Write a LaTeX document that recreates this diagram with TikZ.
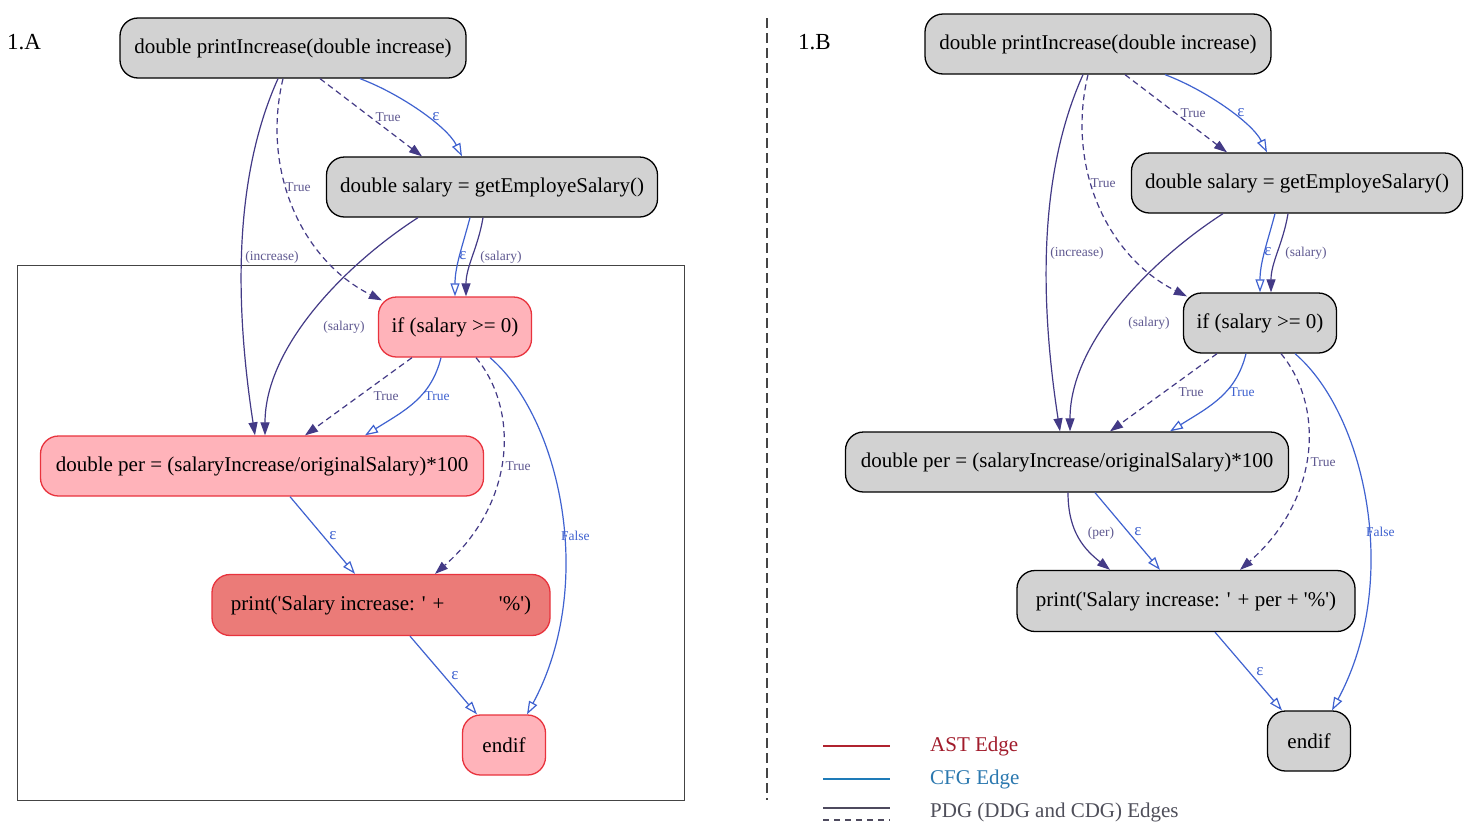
\documentclass[tikz,border=0pt]{standalone}
\usepackage{fontspec}
\setmainfont{Liberation Serif}
\newfontfamily\nodefont{Liberation Serif}
\usetikzlibrary{arrows.meta}

\definecolor{nodegray}{HTML}{D2D2D2}
\definecolor{nodepink}{HTML}{FFB3BA}
\definecolor{nodehot}{HTML}{EB7B78}
\definecolor{nodered}{HTML}{E8333D}
\definecolor{pdgc}{HTML}{433A86}
\definecolor{pdgtext}{HTML}{5E5890}
\definecolor{cfgc}{HTML}{3F62D0}
\definecolor{frame}{HTML}{444444}
\definecolor{astline}{HTML}{B0232F}
\definecolor{astt}{HTML}{A11B2B}
\definecolor{cfgline}{HTML}{1E7BB8}
\definecolor{cfgt}{HTML}{2B78AF}
\definecolor{pdgline}{HTML}{4E4A5E}
\definecolor{pdgt}{HTML}{4F4F5A}

\tikzset{
  codebox/.style={rounded corners=18pt, line width=1.3pt, inner sep=0pt,
    minimum height=60pt, font=\nodefont\fontsize{21}{24}\selectfont},
  graynode/.style={codebox, fill=nodegray, draw=black},
  pinknode/.style={codebox, fill=nodepink, draw=nodered},
  hotnode/.style={codebox, fill=nodehot, draw=nodered},
  pdg/.style={draw=pdgc, line width=1.2pt, -{Triangle[length=13pt,width=9pt]}},
  cdg/.style={pdg, dash pattern=on 6pt off 4pt},
  cfg/.style={draw=cfgc, line width=1.2pt, -{Triangle[open,length=13pt,width=9pt]}},
  pdglbl/.style={font=\fontsize{13.5}{14}\selectfont, text=pdgtext, inner sep=1pt},
  cfglbl/.style={font=\fontsize{13.5}{14}\selectfont, text=cfgc, inner sep=1pt},
  epslbl/.style={font=\fontsize{17}{18}\selectfont, text=cfgc, inner sep=1pt},
  heading/.style={font=\fontsize{23}{26}\selectfont, anchor=west, inner sep=0pt},
  legtext/.style={font=\fontsize{21}{24}\selectfont, anchor=west, inner sep=0pt},
}

% One program graph: #1 name prefix, #2 style of the if node,
% #3 style of the per node, #4 style of the print node,
% #5 style of the endif node, #6 text of the print node
\newcommand\codegraph[6]{%
  \node[graynode, minimum width=346pt] (#1top) at (293,48) {double printIncrease(double increase)};
  \node[graynode, minimum width=331pt] (#1sal) at (492,187) {double salary = getEmployeSalary()};
  \node[#2, minimum width=153pt] (#1if) at (455,327) {if (salary >= 0)};
  \node[#3, minimum width=443pt] (#1per) at (262,466) {double per = (salaryIncrease/originalSalary)*100};
  \node[#4, minimum width=338pt, minimum height=61pt] (#1pr) at (381,605) {#6};
  \node[#5, minimum width=83pt] (#1end) at (504,745) {endif};
  % data and control dependences
  \draw[pdg] ([xshift=-15pt]#1top.south) .. controls +(-45,100) and +(-20,-130) .. ([xshift=-7pt]#1per.north);
  \draw[cdg] ([xshift=-10pt]#1top.south) .. controls +(-22,92) and +(-80,-40) .. ([xshift=4pt,yshift=-4pt]#1if.north west);
  \draw[cdg] ([xshift=27pt]#1top.south) -- ([xshift=-70pt]#1sal.north);
  \draw[pdg] ([xshift=-74pt]#1sal.south) .. controls +(-70,45) and +(0,-90) .. ([xshift=3pt]#1per.north);
  \draw[pdg] ([xshift=-9pt]#1sal.south) .. controls +(-5,30) and +(0,-30) .. ([xshift=11pt]#1if.north);
  \draw[cdg] ([xshift=-43pt]#1if.south) -- ([xshift=43pt]#1per.north);
  \draw[cdg] ([xshift=21pt]#1if.south) .. controls +(44,53) and +(80,-70) .. ([xshift=54pt]#1pr.north);
  % control flow
  \draw[cfg] ([xshift=67pt]#1top.south) .. controls +(40,15) and +(-15,-30) .. ([xshift=-30pt]#1sal.north);
  \draw[cfg] ([xshift=-22pt]#1sal.south) .. controls +(-8,30) and +(0,-30) .. (#1if.north);
  \draw[cfg] ([xshift=-14pt]#1if.south) .. controls +(-10,40) and +(40,-25) .. ([xshift=103pt]#1per.north);
  \draw[cfg] ([xshift=35pt]#1if.south) .. controls +(70,60) and +(70,-130) .. ([xshift=23pt]#1end.north);
  \draw[cfg] ([xshift=28pt]#1per.south) -- ([xshift=-26pt]#1pr.north);
  \draw[cfg] ([xshift=29pt]#1pr.south) -- ([xshift=-27pt]#1end.north);
  % edge labels
  \node[pdglbl] (#1la) at (272,257) {(increase)};
  \node[pdglbl] (#1lb) at (298,187) {True};
  \node[pdglbl] (#1lc) at (388,117) {True};
  \node[epslbl] (#1ld) at (436,117) {ε};
  \node[pdglbl] (#1le) at (344,327) {(salary)};
  \node[epslbl] (#1lf) at (463,256) {ε};
  \node[pdglbl] (#1lg) at (501,257) {(salary)};
  \node[pdglbl] (#1lh) at (386,396) {True};
  \node[cfglbl] (#1li) at (437,396) {True};
  \node[pdglbl] (#1lj) at (518,466) {True};
  \node[cfglbl, anchor=west] (#1lk) at (560,536) {False};
  \node[epslbl] (#1ll) at (333,536) {ε};
  \node[epslbl] (#1lm) at (455,676) {ε};
}

\begin{document}
\begin{tikzpicture}[x=1pt, y=-1pt]
  \useasboundingbox[fill=white] (0,0) rectangle (1480,828);

  % left panel
  \node[heading] (ha) at (7,42) {1.A};
  \draw[frame, line width=1pt] (17,265) rectangle (684,800);
  \codegraph{a}{pinknode}{pinknode}{hotnode}{pinknode}%
    {print('Salary increase: ' +\phantom{ per +} '\%')}

  % divider
  \draw[frame, line width=1.6pt, dash pattern=on 10pt off 5pt] (767,18) -- (767,800);

  % right panel
  \node[heading] (hb) at (798,42) {1.B};
  \begin{scope}[shift={(805,-4)}]
    \codegraph{b}{graynode}{graynode}{graynode}{graynode}%
      {print('Salary increase: ' + per + '\%')}
    \draw[pdg] ([xshift=1pt]bper.south) .. controls +(0,40) and +(-25,-20) .. ([xshift=-76pt]bpr.north);
    \node[pdglbl] (blper) at (296,537) {(per)};
  \end{scope}

  % legend
  \draw[astline, line width=1.8pt] (823,746) -- (890,746);
  \draw[cfgline, line width=1.8pt] (823,779) -- (890,779);
  \draw[pdgline, line width=1.6pt] (823,808) -- (890,808);
  \draw[pdgline, line width=1.4pt, dash pattern=on 6pt off 5pt] (823,820) -- (890,820);
  \node[legtext, text=astt] (lgast) at (930,746) {AST Edge};
  \node[legtext, text=cfgt] (lgcfg) at (930,779) {CFG Edge};
  \node[legtext, text=pdgt] (lgpdg) at (930,812) {PDG (DDG and CDG) Edges};
\end{tikzpicture}
\end{document}
